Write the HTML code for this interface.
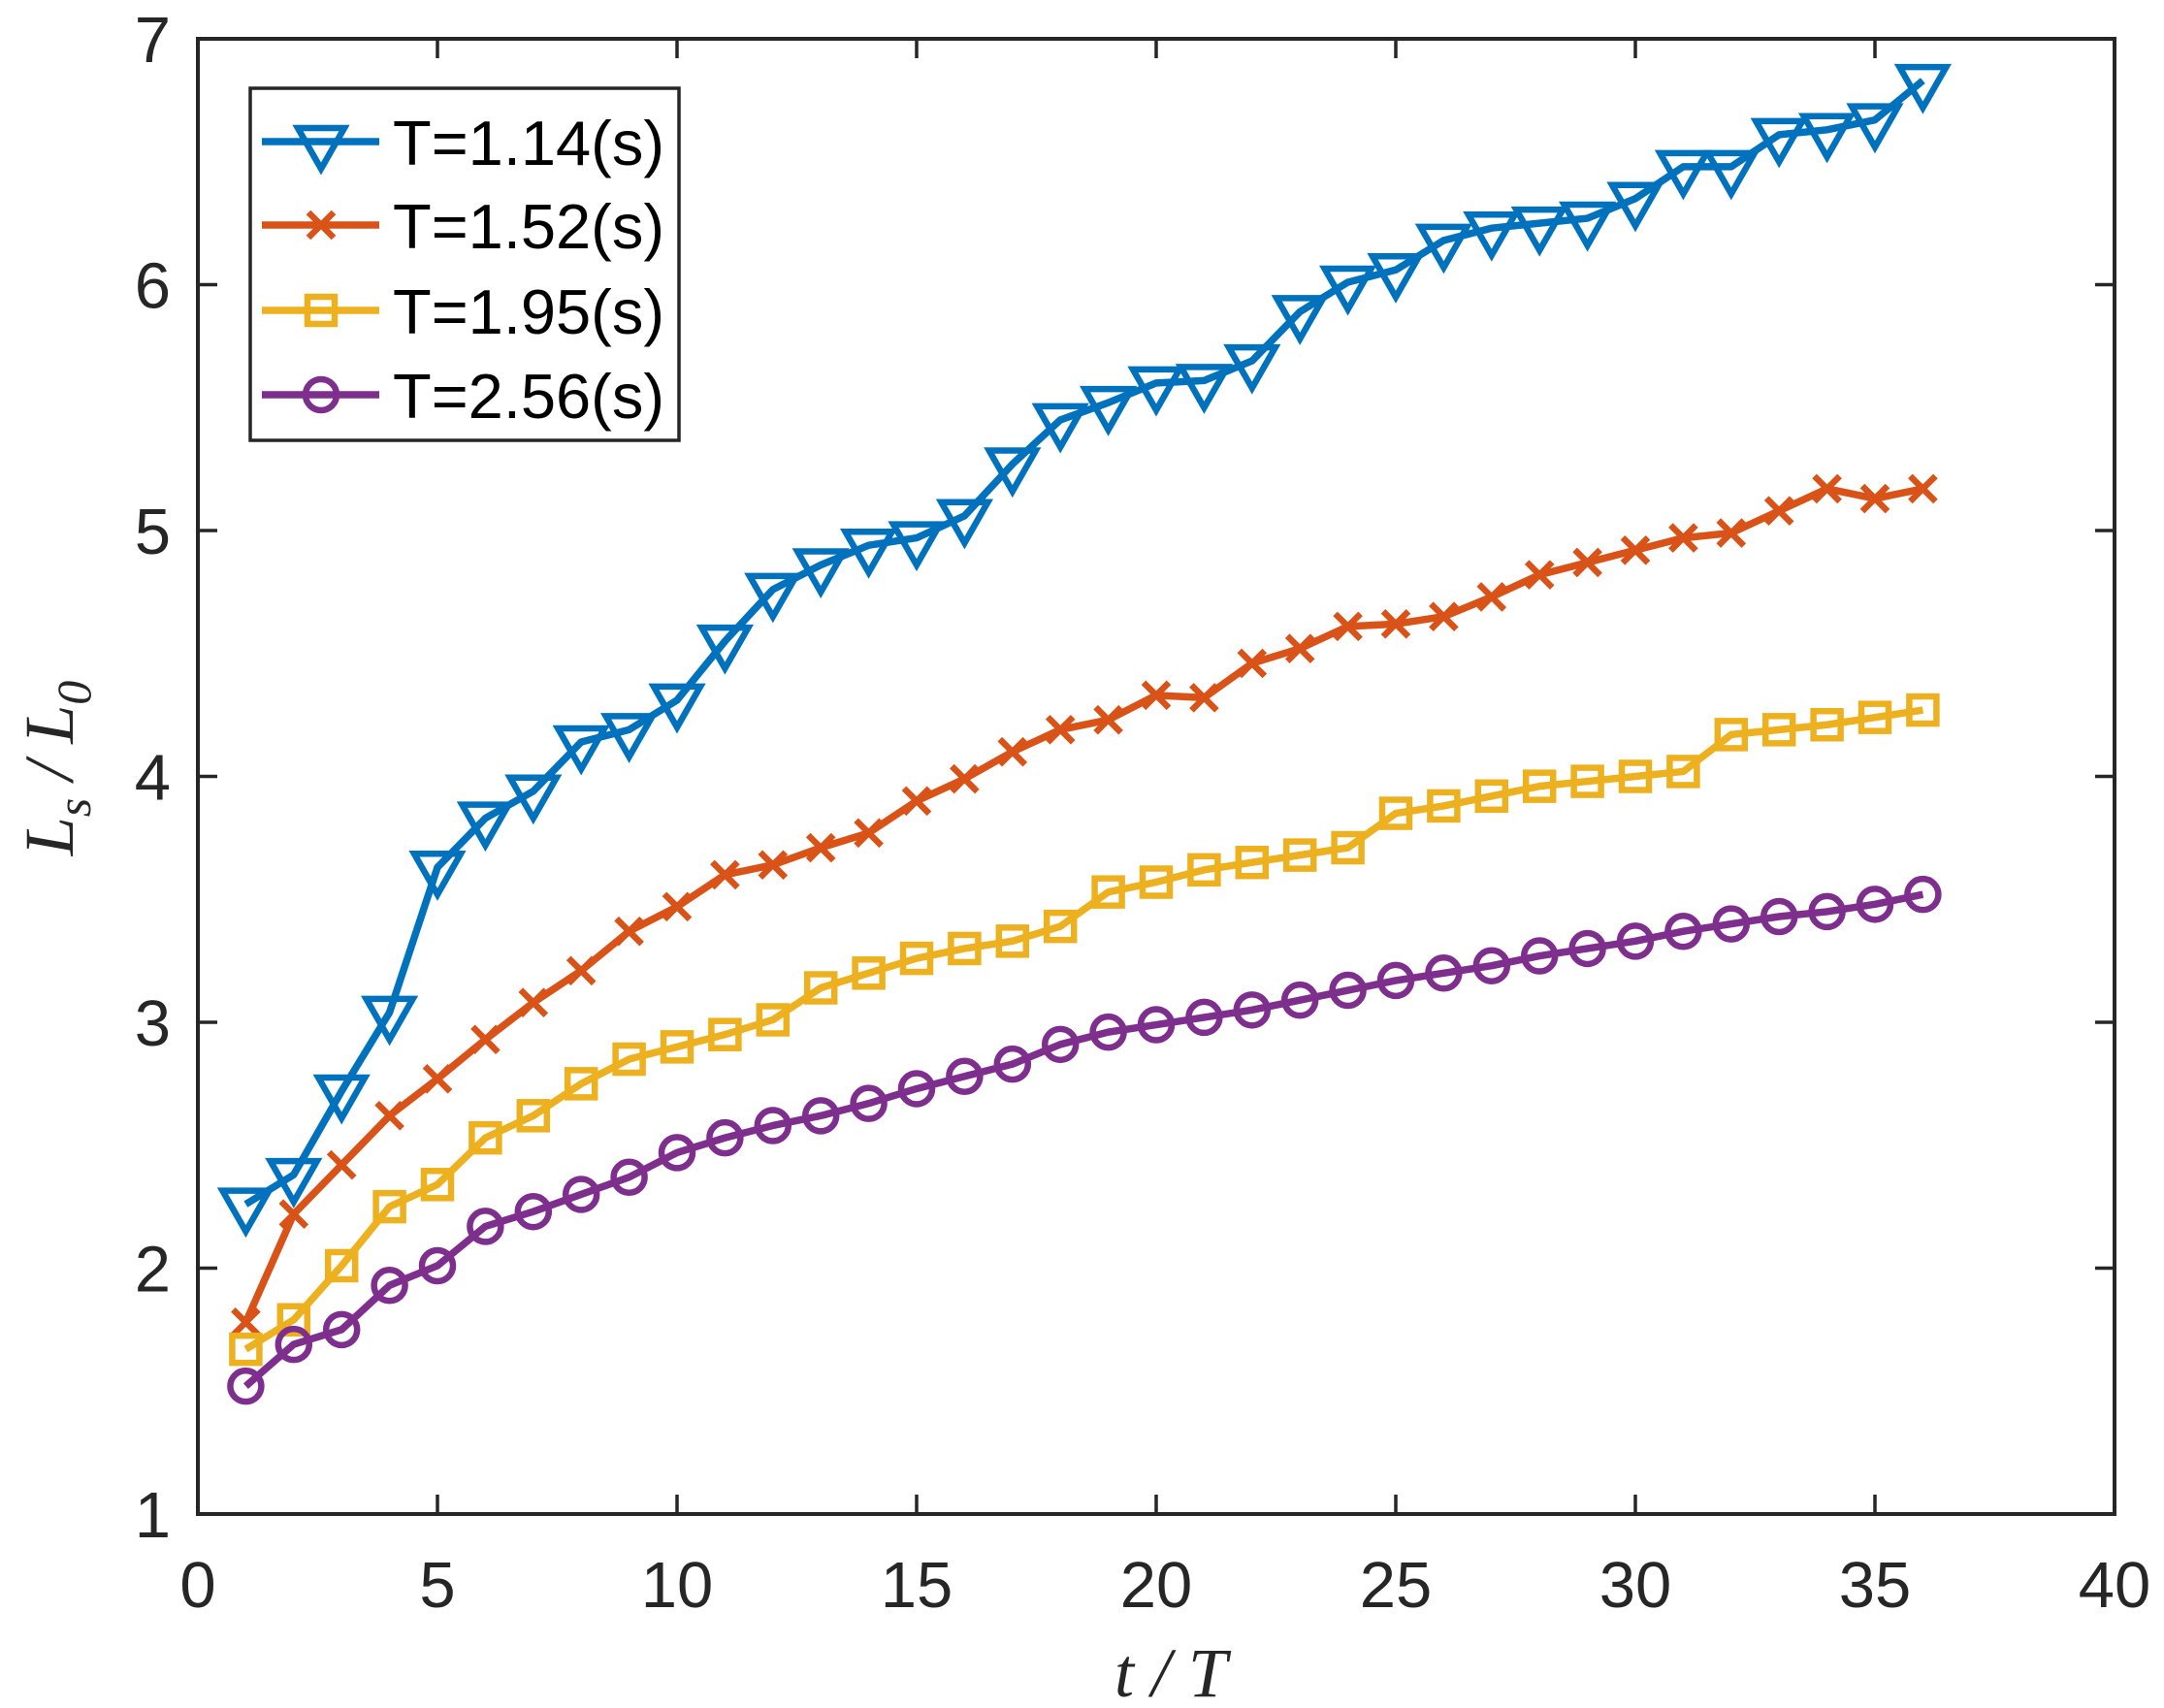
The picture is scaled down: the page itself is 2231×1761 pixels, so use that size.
<!DOCTYPE html>
<html><head><meta charset="utf-8"><style>
html,body{margin:0;padding:0;background:#fff}
svg{display:block}
</style></head><body>
<svg id="s" width="2231" height="1761" xmlns="http://www.w3.org/2000/svg"></svg>
<script>
const X0=204,X1=2180,Y0=1561,Y1=40;
const sx=v=>X0+(X1-X0)*v/40, sy=v=>Y0-(Y0-Y1)*(v-1)/6;
const B=[2.26,2.38,2.72,3.04,3.63,3.83,3.94,4.14,4.19,4.31,4.55,4.76,4.86,4.94,4.97,5.06,5.27,5.45,5.52,5.60,5.61,5.69,5.89,6.01,6.06,6.18,6.23,6.25,6.27,6.35,6.48,6.48,6.61,6.63,6.67,6.83];
const R=[1.78,2.22,2.42,2.62,2.77,2.93,3.08,3.21,3.37,3.47,3.60,3.64,3.71,3.77,3.90,3.99,4.10,4.19,4.23,4.33,4.32,4.46,4.52,4.61,4.62,4.65,4.73,4.82,4.87,4.92,4.97,4.99,5.08,5.17,5.13,5.17];
const Yl=[1.67,1.79,2.01,2.25,2.34,2.53,2.62,2.75,2.85,2.90,2.95,3.01,3.14,3.20,3.26,3.30,3.33,3.39,3.53,3.57,3.62,3.65,3.68,3.71,3.85,3.88,3.92,3.96,3.98,4.00,4.02,4.17,4.19,4.21,4.24,4.27];
const P=[1.52,1.69,1.75,1.93,2.01,2.17,2.23,2.30,2.37,2.47,2.53,2.58,2.62,2.67,2.73,2.78,2.83,2.91,2.96,2.99,3.02,3.05,3.09,3.13,3.17,3.20,3.23,3.27,3.30,3.33,3.37,3.40,3.43,3.45,3.48,3.52];
const C=['#0072BD','#D95319','#EDB120','#7E2F8E'];
function mk(t,x,y,c){
 if(t==0) return `<polygon points="${x-24},${y-14} ${x+24},${y-14} ${x},${y+28}" fill="none" stroke="${c}" stroke-width="6.5"/>`;
 if(t==1) return `<path d="M${x-13},${y-13}L${x+13},${y+13}M${x-13},${y+13}L${x+13},${y-13}" stroke="${c}" stroke-width="6.5"/>`;
 if(t==2) return `<rect x="${x-14}" y="${y-14}" width="28" height="28" fill="none" stroke="${c}" stroke-width="6.5"/>`;
 return `<circle cx="${x}" cy="${y}" r="16" fill="none" stroke="${c}" stroke-width="6.5"/>`;
}
let h='';
const tc='#262626';
for(let i=0;i<=8;i++){const x=sx(i*5);
 h+=`<line x1="${x}" y1="${Y0}" x2="${x}" y2="${Y0-20}" stroke="${tc}" stroke-width="3.5"/>`;
 h+=`<line x1="${x}" y1="${Y1}" x2="${x}" y2="${Y1+20}" stroke="${tc}" stroke-width="3.5"/>`;
 h+=`<text x="${x}" y="1657" font-family="Liberation Sans,sans-serif" font-size="67" fill="${tc}" text-anchor="middle">${i*5}</text>`;}
for(let v=1;v<=7;v++){const y=sy(v);
 h+=`<line x1="${X0}" y1="${y}" x2="${X0+20}" y2="${y}" stroke="${tc}" stroke-width="3.5"/>`;
 h+=`<line x1="${X1}" y1="${y}" x2="${X1-20}" y2="${y}" stroke="${tc}" stroke-width="3.5"/>`;
 h+=`<text x="176" y="${y+24}" font-family="Liberation Sans,sans-serif" font-size="67" fill="${tc}" text-anchor="end">${v}</text>`;}
[B,R,Yl,P].forEach((d,k)=>{
 h+=`<polyline fill="none" stroke="${C[k]}" stroke-width="7.5" stroke-linejoin="round" points="${d.map((v,i)=>sx(i+1)+','+sy(v)).join(' ')}"/>`;
 d.forEach((v,i)=>h+=mk(k,sx(i+1),sy(v),C[k]));
});
h+=`<rect x="${X0}" y="${Y1}" width="${X1-X0}" height="${Y0-Y1}" fill="none" stroke="${tc}" stroke-width="4"/>`;
h+=`<rect x="258" y="91" width="442" height="363" fill="#fff" stroke="${tc}" stroke-width="3.5"/>`;
const L=['T=1.14(s)','T=1.52(s)','T=1.95(s)','T=2.56(s)'],LY=[146,232,320,407];
L.forEach((t,k)=>{const y=LY[k];
 h+=`<line x1="270" y1="${y}" x2="391" y2="${y}" stroke="${C[k]}" stroke-width="7.5"/>`;
 h+=mk(k,331,y,C[k]);
 h+=`<text x="405" y="${y+24}" font-family="Liberation Sans,sans-serif" font-size="65" fill="#000">${t}</text>`;});
h+=`<text x="1207" y="1749" font-family="Liberation Serif,serif" font-style="italic" font-size="72" fill="${tc}" text-anchor="middle">t / T</text>`;
h+=`<g transform="translate(75,792) rotate(-90)"><text x="0" y="0" font-family="Liberation Serif,serif" font-style="italic" font-size="72" fill="${tc}" text-anchor="middle">L<tspan font-size="50" dy="18">s</tspan><tspan dy="-18"> / L</tspan><tspan font-size="50" dy="18">0</tspan></text></g>`;
document.getElementById('s').innerHTML=h;
</script>
</body></html>
